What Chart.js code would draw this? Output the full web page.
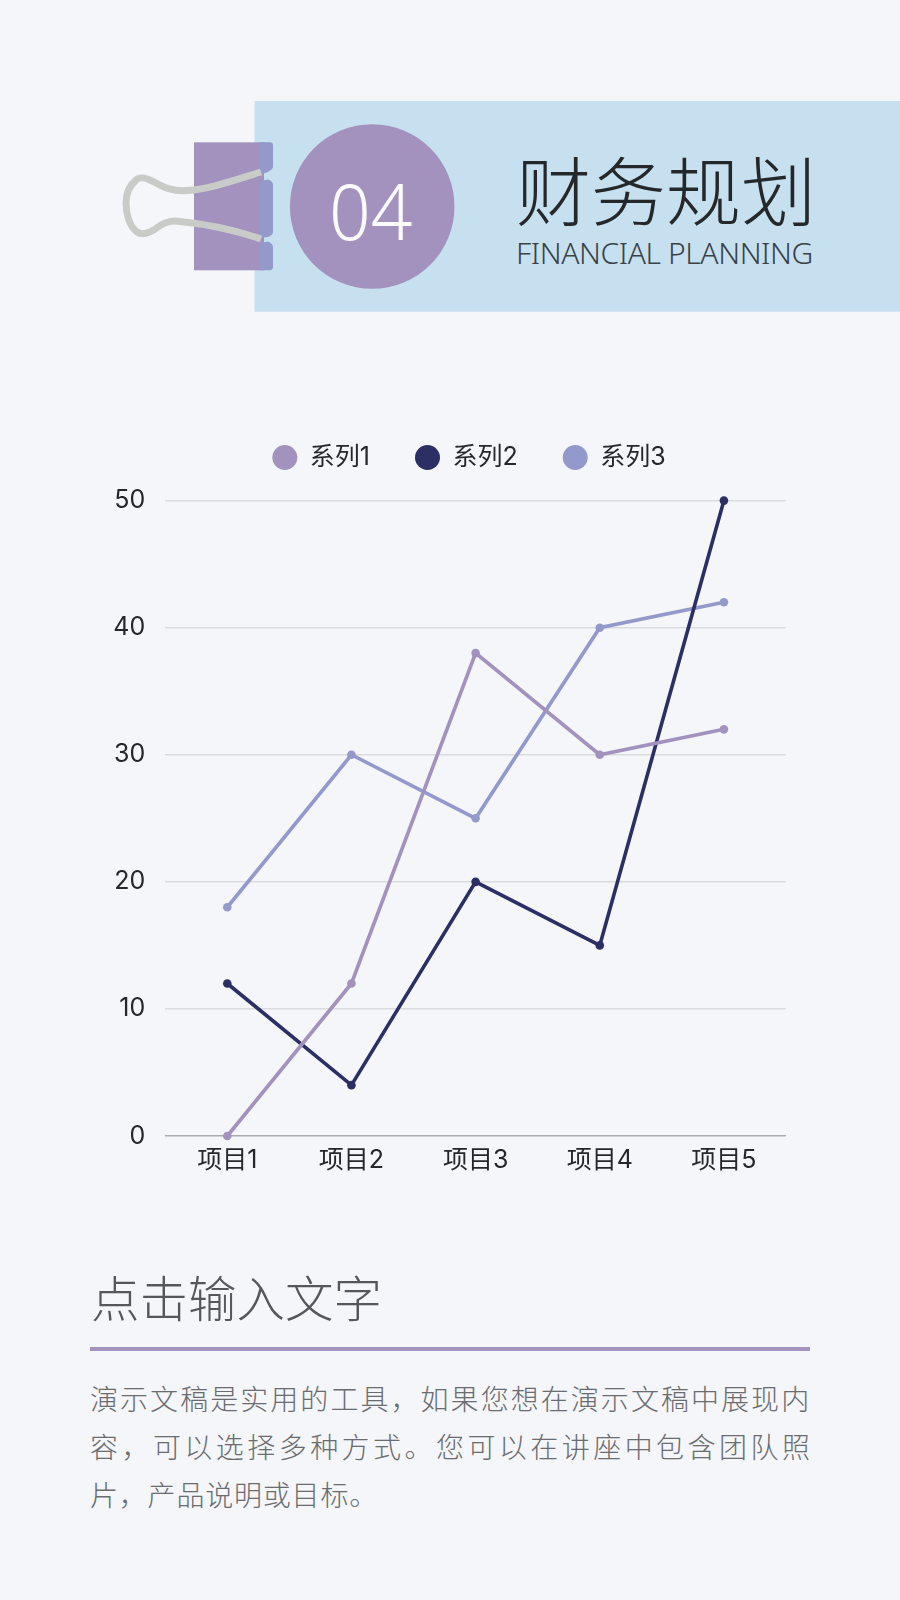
<!DOCTYPE html>
<html lang="zh">
<head>
<meta charset="utf-8">
<script src="https://cdn.jsdelivr.net/npm/chart.js@4"></script>
<style>
html,body{margin:0;padding:0;background:#f5f6f9;}
#page{position:relative;width:900px;height:1600px;overflow:hidden;background:#f5f6f9;font-family:"Noto Sans CJK SC","Noto Sans",sans-serif;font-weight:300;}
.abs{position:absolute;white-space:nowrap;}
#wrap{position:absolute;left:0;top:400px;width:900px;height:796px;}
</style>
</head>
<body>
<div id="page">
<svg class="abs" style="left:0;top:0" width="900" height="330" viewBox="0 0 900 330">
  <rect x="254.6" y="101" width="646" height="210.7" fill="#c7e0f0"/>
  <rect x="194" y="142.3" width="70" height="128" fill="#a292bd"/>
  <path d="M260,142.3H270q3,0 3,3V167q0,2 -6,5.5L260,174Z" fill="#9499cb"/>
  <path d="M260,181L268,179.5q5,2 5,5V232q0,3 -5,5L260,238Z" fill="#9499cb"/>
  <path d="M260,243L268,241.5q5,2 5,6V267q0,3 -3,3.3H260Z" fill="#9499cb"/>
  <path d="M261,172C235,180 210,189 187,190.5C173,191.5 165,188 155,182.5C147,178 140,176 136,180C128,187 126,195 126,203C126,213 129,226 137,232C143,236 150,233 158,227C165,222 172,220 180,221.5C205,224 235,230 261,239" fill="none" stroke="#c9cbc9" stroke-width="7"/>
  <circle cx="372.2" cy="206.5" r="82.3" fill="#a292bd"/>
</svg>
<div class="abs" id="num" style="left:329px;top:161px;font-size:77px;line-height:100px;color:#fbfbfd;font-family:'Noto Sans','Noto Sans CJK SC',sans-serif;font-weight:300;transform:scaleX(0.95);transform-origin:left center;">04</div>
<div class="abs" id="title" style="left:516px;top:138px;font-size:75px;line-height:100px;color:#24282a;">财务规划</div>
<div class="abs" id="sub" style="left:516px;top:230px;font-size:30px;line-height:46px;color:#3a4247;letter-spacing:-0.4px;font-family:'Noto Sans','Noto Sans CJK SC',sans-serif;font-weight:300;">FINANCIAL PLANNING</div>

<div id="wrap"><canvas id="c" width="900" height="796"></canvas></div>

<div class="abs" id="head" style="left:91px;top:1261px;font-size:48.5px;line-height:70px;color:#55585b;">点击输入文字</div>
<div class="abs" style="left:90.2px;top:1347.3px;width:720px;height:3.4px;background:#a593bf;"></div>
<div class="abs" style="left:90px;top:1373.5px;font-size:28px;line-height:48px;color:#6a6c70;letter-spacing:2.05px;">演示文稿是实用的工具，如果您想在演示文稿中展现内</div>
<div class="abs" style="left:90px;top:1422px;font-size:28px;line-height:48px;color:#6a6c70;letter-spacing:3.45px;">容，可以选择多种方式。您可以在讲座中包含团队照</div>
<div class="abs" style="left:90px;top:1470px;font-size:28px;line-height:48px;color:#6a6c70;letter-spacing:0.8px;">片，产品说明或目标。</div>
</div>
<script>
const categories = ["项目1","项目2","项目3","项目4","项目5"];
const series1Name = "系列1";
const series2Name = "系列2";
const series3Name = "系列3";
const series1 = [0,12,38,30,32];
const series2 = [12,4,20,15,50];
const series3 = [18,30,25,40,42];
const yMax = 50;
const yStep = 10;
const C1 = "#a292bd", C2 = "#2b2f63", C3 = "#9499cb";
const FONT = "Inter, 'Noto Sans CJK SC', sans-serif";

function ds(label,data,color){
  return {label,data,borderColor:color,backgroundColor:color,borderWidth:3.6,
    pointRadius:4.3,pointHoverRadius:4.3,pointBorderWidth:0,pointBackgroundColor:color,
    tension:0,clip:false,fill:false};
}
const legendPlace = {
  id:"legendPlace",
  beforeInit(chart){
    const fit = chart.legend.fit;
    chart.legend.fit = function(){ fit.call(this); this.height += 20.6; };
  },
  afterLayout(chart){
    chart.legend.left += 76;
    chart.legend.right += 76;
  }
};
new Chart(document.getElementById("c"),{
  type:"line",
  plugins:[legendPlace],
  data:{labels:categories,datasets:[ds(series1Name,series1,C1),ds(series2Name,series2,C2),ds(series3Name,series3,C3)]},
  options:{
    responsive:false,animation:false,devicePixelRatio:1,
    layout:{padding:{left:0,right:114,top:0,bottom:0}},
    plugins:{
      tooltip:{enabled:false},
      legend:{display:true,position:"top",align:"center",
        labels:{usePointStyle:true,pointStyle:"circle",pointStyleWidth:25,boxHeight:17.7,
          padding:45,color:"#24282a",font:{family:FONT,size:25,weight:"normal"}}}
    },
    scales:{
      x:{offset:true,grid:{display:false},border:{display:false},
        ticks:{color:"#24282a",padding:1,maxRotation:0,font:{family:FONT,size:25}},
        afterFit(s){s.height=60;}},
      y:{min:0,max:yMax,
        grid:{drawTicks:false,lineWidth:1.4,color:(c)=>c.tick&&c.tick.value===0?"#a9a9ae":"#d9dbde"},
        border:{display:false},
        ticks:{stepSize:yStep,color:"#24282a",padding:20,font:{family:FONT,size:25}},
        afterFit(s){s.width=165.2;}}
    }
  }
});
</script>
</body>
</html>
